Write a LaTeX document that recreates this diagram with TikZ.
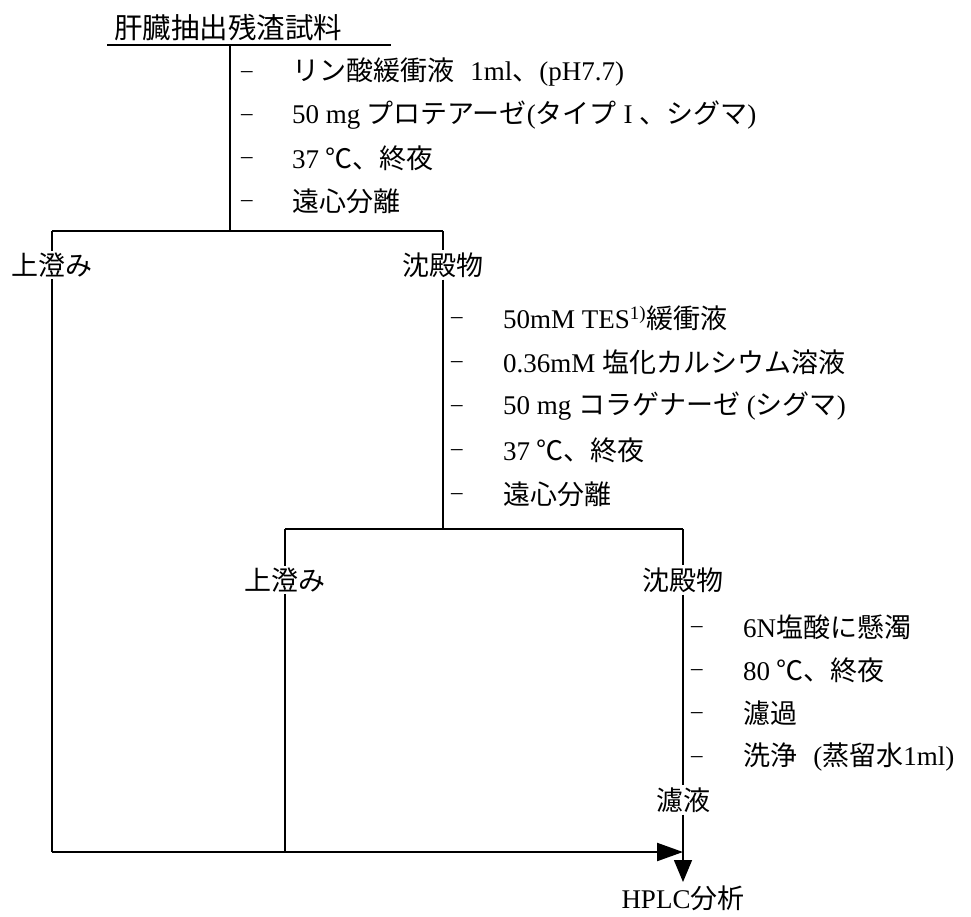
\documentclass[tikz,border=0pt]{standalone}
\usepackage{fontspec}
\setmainfont{Liberation Serif}
\newfontfamily\jpfont{Noto Sans CJK JP}
\usetikzlibrary{arrows.meta}
\newcommand{\lt}[1]{{\rmfamily #1}}
\begin{document}
\begin{tikzpicture}[x=1pt,y=-1pt,
  txt/.style={font=\jpfont\fontsize{27}{30}\selectfont, inner sep=1pt},
  item/.style={txt, anchor=west},
  lbl/.style={txt, inner sep=2pt},
  dashtxt/.style={font=\rmfamily\fontsize{23}{25}\selectfont, anchor=base west, inner sep=0pt, yshift=-5.5pt},
  ln/.style={line width=2.3pt},
  thinln/.style={line width=1.5pt}
]
\useasboundingbox[fill=white] (0,0) rectangle (971,916);

% title
\node[txt, font=\jpfont\fontsize{28.5}{30}\selectfont] (title) at (228,28) {肝臓抽出残渣試料};
\coordinate (ulL) at (107,45);
\coordinate (ulR) at (391,45);
\draw[ln] (ulL) -- (ulR);
\coordinate (t1) at (230,45);
\coordinate (b1) at (230,231);
\draw[ln] (t1) -- (b1);

% items 1
\node[dashtxt] (d11) at (241,72) {–};
\node[dashtxt] (d12) at (241,115) {–};
\node[dashtxt] (d13) at (241,158) {–};
\node[dashtxt] (d14) at (241,201) {–};
\node[item] (i11) at (291,72) {リン酸緩衝液\hspace{0.6em}\lt{1ml}、\lt{(pH7.7)}};
\node[item] (i12) at (291,115) {\lt{50 mg} プロテアーゼ\lt{(}タイプ\lt{ I }、シグマ\lt{)}};
\node[item] (i13) at (291,158) {\lt{37 }℃、終夜};
\node[item] (i14) at (291,201) {遠心分離};

% branch 1
\coordinate (L1) at (52,231);
\coordinate (R1) at (443,231);
\draw[ln] (L1) -- (R1);
\node[lbl] (sup1) at (52,265) {上澄み};
\node[lbl] (ppt1) at (443,265) {沈殿物};
\draw[ln] (L1) -- (sup1.north);
\draw[ln] (R1) -- (ppt1.north);

% items 2
\node[dashtxt] (d21) at (451,318) {–};
\node[dashtxt] (d22) at (451,362) {–};
\node[dashtxt] (d23) at (451,406) {–};
\node[dashtxt] (d24) at (451,450) {–};
\node[dashtxt] (d25) at (451,494) {–};
\node[item] (i21) at (502,318) {\lt{50mM TES\textsuperscript{1)}}緩衝液};
\node[item] (i22) at (502,362) {\lt{0.36mM }塩化カルシウム溶液};
\node[item] (i23) at (502,406) {\lt{50 mg }コラゲナーゼ\lt{ (}シグマ\lt{)}};
\node[item] (i24) at (502,450) {\lt{37 }℃、終夜};
\node[item] (i25) at (502,494) {遠心分離};

% branch 2
\coordinate (M2) at (443,529);
\coordinate (L2) at (285,529);
\coordinate (R2) at (683,529);
\draw[ln] (ppt1.south) -- (M2);
\draw[ln] (L2) -- (R2);
\node[lbl] (sup2) at (285,580) {上澄み};
\node[lbl] (ppt2) at (683,580) {沈殿物};
\draw[ln] (L2) -- (sup2.north);
\draw[ln] (R2) -- (ppt2.north);

% items 3
\node[dashtxt] (d31) at (691,627) {–};
\node[dashtxt] (d32) at (691,670) {–};
\node[dashtxt] (d33) at (691,713) {–};
\node[dashtxt] (d34) at (691,757) {–};
\node[item] (i31) at (742,627) {\lt{6N}塩酸に懸濁};
\node[item] (i32) at (742,670) {\lt{80 }℃、終夜};
\node[item] (i33) at (742,713) {濾過};
\node[item] (i34) at (742,757) {洗浄\hspace{0.6em}\lt{(}蒸留水\lt{1ml)}};

\node[lbl] (filt) at (683,800) {濾液};
\draw[thinln] (ppt2.south) -- (filt.north);

% bottom
\coordinate (BL) at (52,852);
\coordinate (BM) at (285,852);
\coordinate (J) at (683,852);
\coordinate (tipD) at (683,882);
\draw[ln] (sup1.south) -- (BL);
\draw[ln] (sup2.south) -- (BM);
\draw[ln, -{Triangle[length=26pt,width=18pt]}] (BL) -- (J);
\draw[thinln] (filt.south) -- (J);
\draw[thinln, -{Triangle[length=22pt,width=18pt]}] (J) -- (tipD);
\node[lbl] (hplc) at (683,898) {\lt{HPLC}分析};
\end{tikzpicture}
\end{document}
